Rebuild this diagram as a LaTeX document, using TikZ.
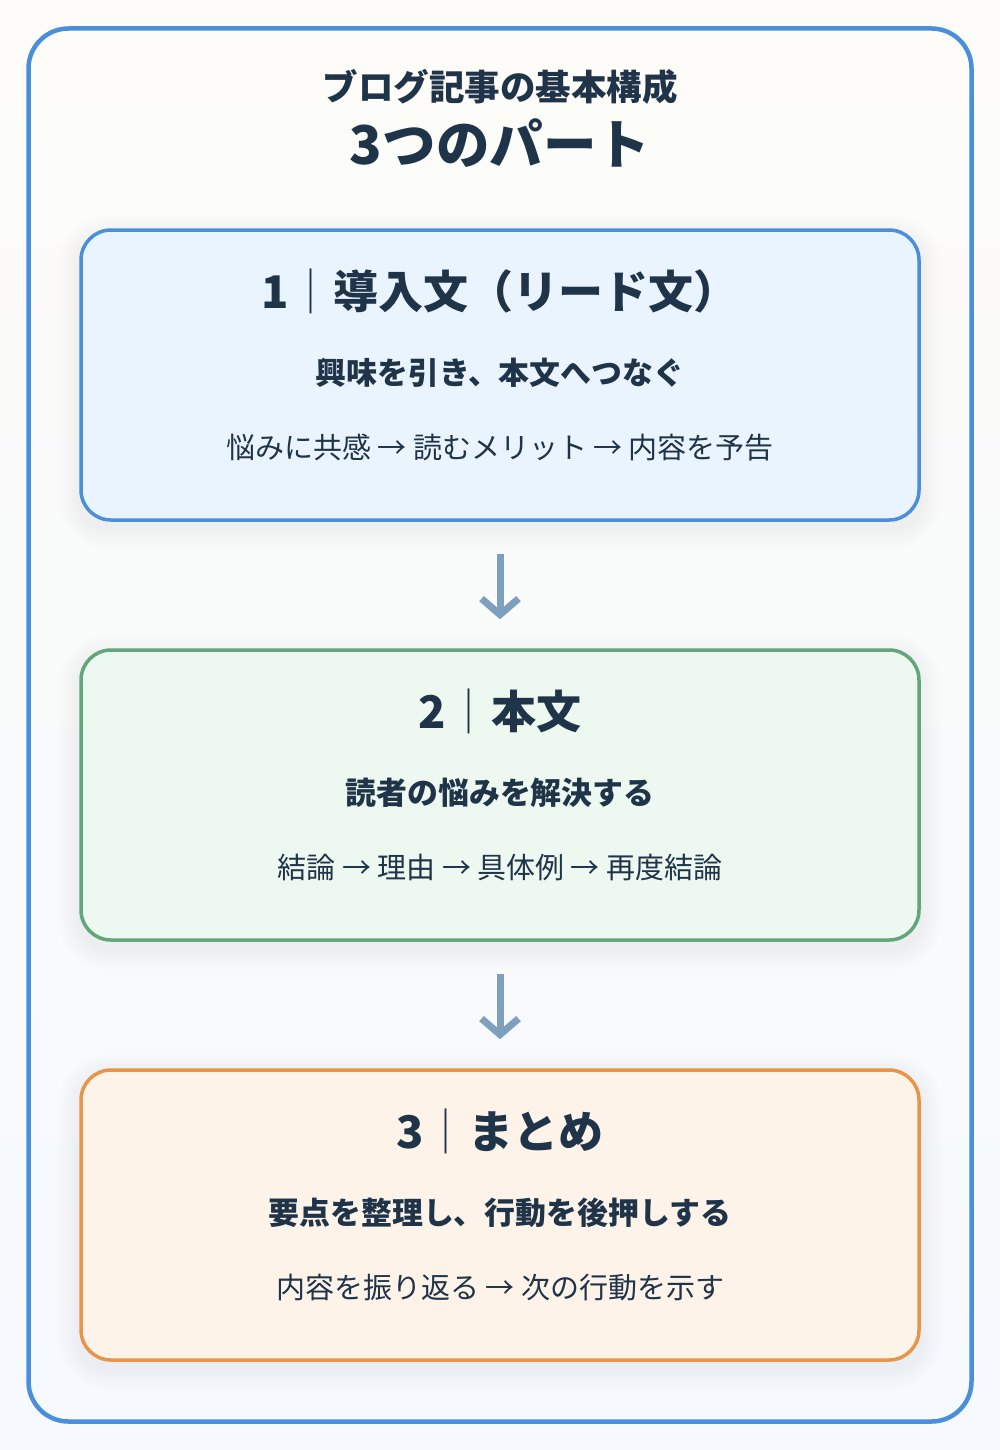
\documentclass[tikz,border=0pt]{standalone}
\usepackage{fontspec}
\setmainfont{Noto Sans CJK JP}
\usetikzlibrary{arrows.meta,calc}
\pgfdeclarelayer{bglayer}
\pgfdeclarelayer{shadowlayer}
\pgfsetlayers{bglayer,shadowlayer,main}
\definecolor{ink}{HTML}{1F3449}
\definecolor{bgtop}{HTML}{FDFCF9}
\definecolor{bgbot}{HTML}{F6F9FE}
\definecolor{frameblue}{HTML}{4A8FDC}
\definecolor{fillA}{HTML}{EAF4FF}
\definecolor{lineA}{HTML}{4A8FDC}
\definecolor{fillB}{HTML}{EDF8F0}
\definecolor{lineB}{HTML}{62A67C}
\definecolor{fillC}{HTML}{FEF3E8}
\definecolor{lineC}{HTML}{E8954A}
\definecolor{arrowc}{HTML}{7F9FBF}
\begin{document}
\begin{tikzpicture}[x=1pt,y=-1pt,
  partbox/.style={rectangle, rounded corners=30pt, line width=3.5pt,
    minimum width=838pt, minimum height=290pt, inner sep=0pt},
  softshadow/.style={fill=black, fill opacity=0.0048, draw=none},
  txt/.style={inner sep=0pt, anchor=base, text=ink},
  titleone/.style={txt, font=\fontsize{35.5}{40}\selectfont\bfseries},
  titletwo/.style={txt, font=\fontsize{53.5}{60}\selectfont\bfseries},
  headtxt/.style={txt, font=\fontsize{45}{50}\selectfont\bfseries},
  subtxt/.style={txt, font=\fontsize{30.9}{36}\selectfont\bfseries},
  desctxt/.style={txt, font=\fontsize{29}{34}\selectfont},
  flow/.style={draw=arrowc, line width=7pt, shorten <=32pt, shorten >=29pt,
    -{Straight Barb[length=16pt,width=37pt]}}
]
\useasboundingbox (0,0) rectangle (1000,1450);
\begin{pgfonlayer}{bglayer}
\shade[top color=bgtop, bottom color=bgbot] (0,0) rectangle (1000,1450);
\end{pgfonlayer}
\draw[draw=frameblue, line width=4.5pt, rounded corners=40pt] (28.5,28.5) rectangle (971.5,1421.5);

\node[titleone] (t1) at (500,101) {ブログ記事の基本構成};
\node[titletwo] (t2) at (500,165) {3つのパート};

\node[partbox, fill=fillA, draw=lineA] (b1) at (500,375) {};
\node[partbox, fill=fillB, draw=lineB] (b2) at (500,795) {};
\node[partbox, fill=fillC, draw=lineC] (b3) at (500,1215) {};

\begin{pgfonlayer}{shadowlayer}
\foreach \b in {b1,b2,b3}{
  \foreach \i in {1,...,12}{
    \fill[softshadow, rounded corners={30pt+1.8pt*\i}]
      ($(\b.north west)+(-1.8*\i,-1.8*\i+7)$) rectangle ($(\b.south east)+(1.8*\i,1.8*\i+7)$);
  }
}
\end{pgfonlayer}

\node[headtxt] (h1) at ($(b1.north)+(0,80)$) {1{\mdseries ｜}導入文（リード文）};
\node[subtxt]  (s1) at ($(b1.north)+(0,156)$) {興味を引き、本文へつなぐ};
\node[desctxt] (d1) at ($(b1.north)+(0,230)$) {悩みに共感 → 読むメリット → 内容を予告};

\node[headtxt] (h2) at ($(b2.north)+(0,80)$) {2{\mdseries ｜}本文};
\node[subtxt]  (s2) at ($(b2.north)+(0,156)$) {読者の悩みを解決する};
\node[desctxt] (d2) at ($(b2.north)+(0,230)$) {結論 → 理由 → 具体例 → 再度結論};

\node[headtxt] (h3) at ($(b3.north)+(0,80)$) {3{\mdseries ｜}まとめ};
\node[subtxt]  (s3) at ($(b3.north)+(0,156)$) {要点を整理し、行動を後押しする};
\node[desctxt] (d3) at ($(b3.north)+(0,230)$) {内容を振り返る → 次の行動を示す};

\draw[flow] (b1) -- (b2);
\draw[flow] (b2) -- (b3);
\end{tikzpicture}
\end{document}
